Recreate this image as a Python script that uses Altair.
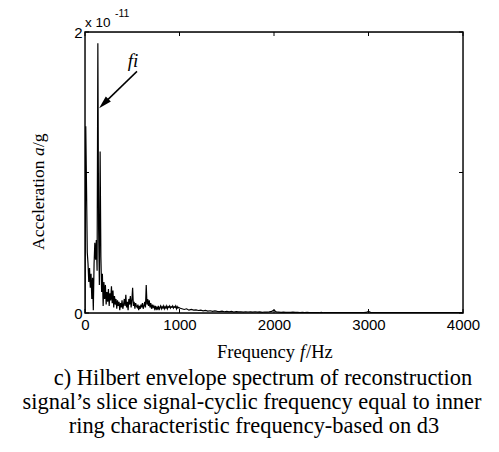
import altair as alt
import pandas as pd

# ---- spectrum data (amplitude in units of 1e-11 g) ----
low_step = 8
low_amp = [
    0.0, 1.33, 0.9, 0.43, 0.35, 0.22, 0.32, 0.18, 0.28, 0.1,
    0.25, 0.02, 0.35, 0.5, 0.38, 0.52, 0.3, 1.92, 0.6, 0.2,
    1.15, 0.4, 0.15, 0.28, 0.05, 0.22, 0.1, 0.2, 0.06, 0.15,
    0.08, 0.17, 0.05, 0.14, 0.09, 0.19, 0.07, 0.16, 0.04, 0.12,
    0.06, 0.1, 0.03, 0.09, 0.05, 0.08, 0.02, 0.07, 0.04, 0.09,
    0.03, 0.06, 0.1, 0.05, 0.13, 0.04, 0.08, 0.02, 0.1, 0.06,
    0.12, 0.04, 0.09, 0.18, 0.05, 0.08, 0.03, 0.07, 0.05, 0.04,
    0.06, 0.02, 0.05, 0.03, 0.06, 0.04, 0.07, 0.03, 0.05, 0.08,
    0.04, 0.2, 0.06, 0.1, 0.05, 0.09, 0.04, 0.07, 0.03, 0.06,
    0.04, 0.05, 0.03, 0.05, 0.02, 0.04, 0.03, 0.05, 0.02, 0.04,
    0.05, 0.03, 0.045, 0.035, 0.05, 0.03, 0.045, 0.035, 0.05, 0.03,
    0.045, 0.04, 0.05, 0.035, 0.045, 0.04, 0.05, 0.035, 0.045, 0.04,
    0.05, 0.03, 0.045, 0.035, 0.04,
]
high_start = 1000
high_step = 25
high_amp = [
    0.035, 0.03, 0.025, 0.03, 0.02, 0.025, 0.02, 0.022, 0.018, 0.02,
    0.015, 0.018, 0.014, 0.016, 0.012, 0.015, 0.012, 0.01, 0.013, 0.009,
    0.012, 0.008, 0.011, 0.007, 0.01, 0.008, 0.009, 0.006, 0.009, 0.007,
    0.008, 0.006, 0.009, 0.006, 0.008, 0.005, 0.007, 0.006, 0.008, 0.012,
    0.02, 0.007, 0.006, 0.005, 0.006, 0.004, 0.005, 0.004, 0.006, 0.004,
    0.005, 0.003, 0.004, 0.003, 0.004, 0.003, 0.003, 0.002, 0.003, 0.002,
    0.005, 0.002, 0.003, 0.002, 0.003, 0.002, 0.003, 0.002, 0.002, 0.002,
    0.003, 0.002, 0.002, 0.002, 0.003, 0.002, 0.002, 0.002, 0.003, 0.004,
    0.012, 0.003, 0.002, 0.002, 0.003, 0.002, 0.002, 0.002, 0.003, 0.002,
    0.002, 0.002, 0.002, 0.002, 0.003, 0.002, 0.002, 0.002, 0.002, 0.002,
    0.002, 0.002, 0.002, 0.002, 0.002, 0.002, 0.002, 0.002, 0.002, 0.002,
    0.002, 0.002, 0.002, 0.002, 0.002, 0.002, 0.002, 0.002, 0.002, 0.002,
    0.002,
]

x_ticks = [0, 1000, 2000, 3000, 4000]
y_ticks = [0, 1, 2]

# annotation (data coordinates)
arrow_start = (550, 1.72)
arrow_head = (198, 1.49)
fi_label = (508, 1.75)

caption = [
    "c) Hilbert envelope spectrum of reconstruction",
    "signal\u2019s slice signal-cyclic frequency equal to inner",
    "ring characteristic frequency-based on d3",
]

freq = [i * low_step for i in range(len(low_amp))] + \
       [high_start + i * high_step for i in range(len(high_amp))]
amp = low_amp + high_amp
df = pd.DataFrame({"f": freq, "a": amp})

W, H = 378, 281
xs = alt.Scale(domain=[0, 4000], nice=False, zero=False)
ys = alt.Scale(domain=[0, 2], nice=False)
SANS = "Liberation Sans"
SERIF = "Liberation Serif"

line = alt.Chart(df).mark_line(color="black", strokeWidth=1.2, clip=True).encode(
    x=alt.X("f:Q", scale=xs, axis=alt.Axis(values=x_ticks, format="d", ticks=False, domain=False,
                                           grid=False, labelFont=SANS, labelFontSize=15,
                                           labelColor="black", labelPadding=4, title=None,
                                           labelFlush=False)),
    y=alt.Y("a:Q", scale=ys, axis=alt.Axis(values=y_ticks, format="d", ticks=False, domain=False,
                                           grid=False, labelFont=SANS, labelFontSize=15,
                                           labelColor="black", labelPadding=3, title=None,
                                           labelFlush=False)),
)

box = alt.Chart(pd.DataFrame({"d": [0]})).mark_rect(fill=None, stroke="black", strokeWidth=1.4).encode(
    x=alt.value(0), x2=alt.value(W), y=alt.value(0), y2=alt.value(H))

xt = pd.DataFrame({"v": x_ticks})
yt = pd.DataFrame({"v": y_ticks})
tb = alt.Chart(xt).mark_rule(color="black", strokeWidth=1).encode(
    x=alt.X("v:Q", scale=xs), y=alt.value(H), y2=alt.value(H - 4))
tt = alt.Chart(xt).mark_rule(color="black", strokeWidth=1).encode(
    x=alt.X("v:Q", scale=xs), y=alt.value(0), y2=alt.value(4))
tl = alt.Chart(yt).mark_rule(color="black", strokeWidth=1).encode(
    y=alt.Y("v:Q", scale=ys), x=alt.value(0), x2=alt.value(4))
tr = alt.Chart(yt).mark_rule(color="black", strokeWidth=1).encode(
    y=alt.Y("v:Q", scale=ys), x=alt.value(W), x2=alt.value(W - 4))

adf = pd.DataFrame({"x": [arrow_start[0]], "y": [arrow_start[1]],
                    "x2": [arrow_head[0]], "y2": [arrow_head[1]]})
arrow = alt.Chart(adf).mark_rule(color="black", strokeWidth=1.5).encode(
    x=alt.X("x:Q", scale=xs), y=alt.Y("y:Q", scale=ys), x2="x2:Q", y2="y2:Q")
hdf = pd.DataFrame({"x": [arrow_head[0]], "y": [arrow_head[1]]})
head = alt.Chart(hdf).mark_point(shape="M0,-1L0.55,1L-0.55,1Z", filled=True, color="black",
                                 opacity=1, size=170, angle=225).encode(
    x=alt.X("x:Q", scale=xs), y=alt.Y("y:Q", scale=ys))
fdf = pd.DataFrame({"x": [fi_label[0]], "y": [fi_label[1]], "t": ["fi"]})
fi = alt.Chart(fdf).mark_text(font=SERIF, fontStyle="italic", fontSize=19, align="center",
                              baseline="alphabetic", color="black").encode(
    x=alt.X("x:Q", scale=xs), y=alt.Y("y:Q", scale=ys), text="t:N")

one = pd.DataFrame({"d": [0]})


def txt(s, x, y, size, font=SERIF, style="normal", align="left", angle=0):
    return alt.Chart(one).mark_text(text=s, font=font, fontSize=size, fontStyle=style,
                                    align=align, baseline="alphabetic", color="black",
                                    angle=angle).encode(x=alt.value(x), y=alt.value(y))


texts = [
    txt("x 10", 0, -5, 13.5, font=SANS),
    txt("-11", 30, -15, 10.5, font=SANS),
    txt("Frequency ", 132, 326, 18.5),
    txt("f", 215, 326, 18.5, style="italic"),
    txt("/Hz", 221, 326, 18.5),
    txt("Acceleration ", -41, 218, 17.5, angle=270),
    txt("a", -41, 218 - 94, 17.5, style="italic", angle=270),
    txt("/g", -41, 218 - 103, 17.5, angle=270),
    txt(caption[0], 178, 353, 22.4, align="center"),
    txt(caption[1], 167, 377, 22.4, align="center"),
    txt(caption[2], 169, 401, 22.4, align="center"),
]

chart = alt.layer(line, box, tb, tt, tl, tr, arrow, head, fi, *texts).properties(
    width=W, height=H,
    autosize=alt.AutoSizeParams(type="none"),
    padding={"left": 77, "top": 24, "right": 28, "bottom": 131},
).configure_view(stroke=None).configure(background="white")

chart.save("out.html", embed_options={"renderer": "svg", "actions": False})
